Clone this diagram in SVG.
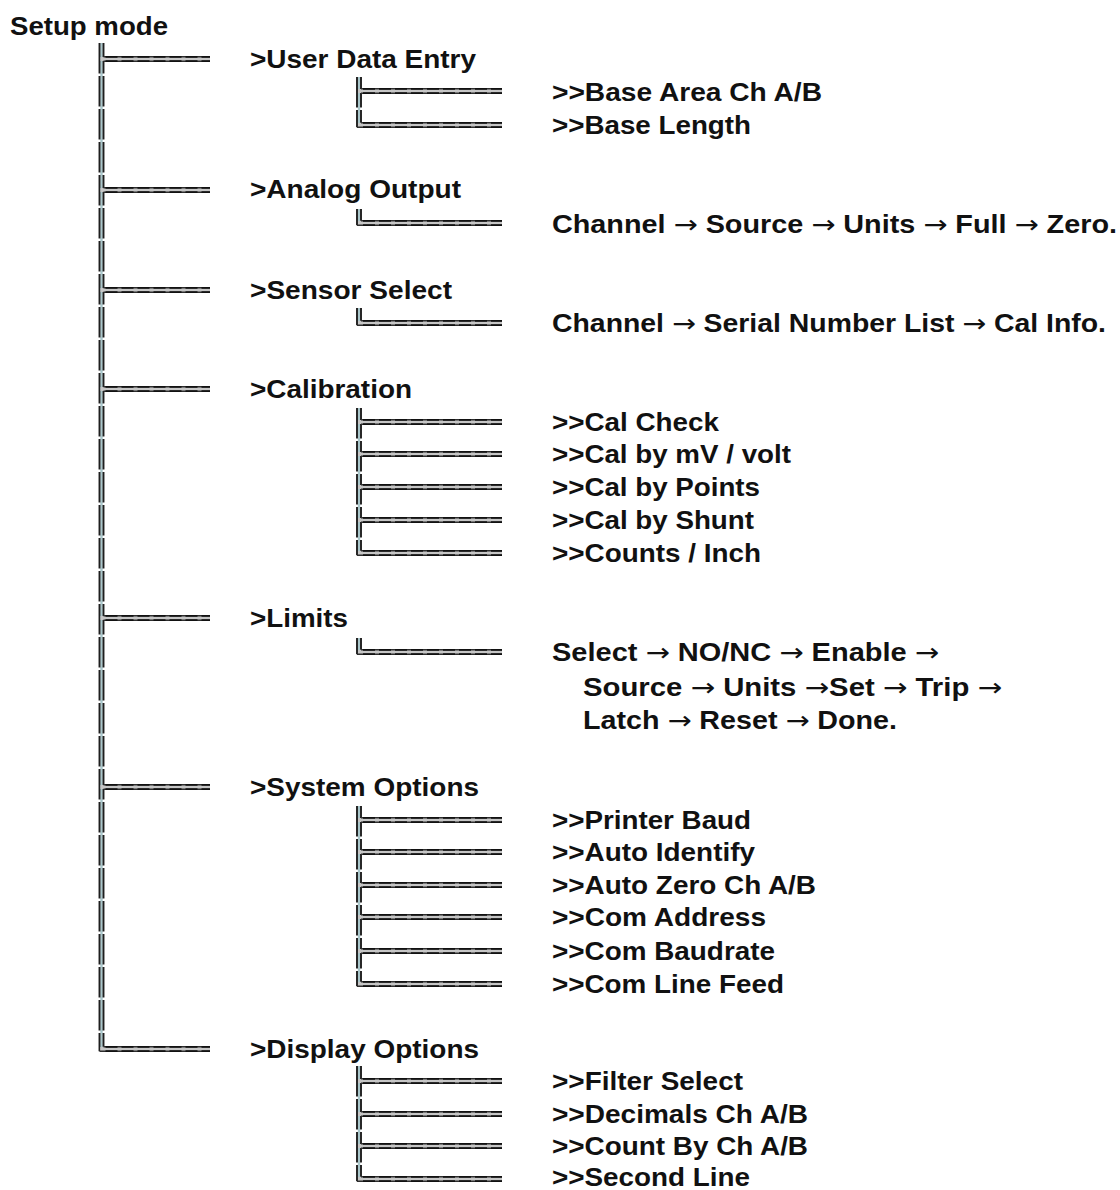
<svg xmlns="http://www.w3.org/2000/svg" width="1120" height="1190" viewBox="0 0 1120 1190">
<style>
.t{font-family:"Liberation Sans",Arial,sans-serif;font-weight:bold;font-size:25px;fill:#111}
.a{font-family:"DejaVu Sans",sans-serif;font-weight:normal}
.v{stroke:#1e1e1e;stroke-width:1.9;fill:none;stroke-dasharray:30.5 2.5}
.vb{fill:#a9c7cb}
.band{fill:#c6c6c6}
.h{stroke:#2e2e2e;stroke-width:1.4;fill:none}
.hk{stroke:#111;stroke-width:1.7;fill:none;stroke-dasharray:12 4}
</style>
<defs>
<g id="mTee">
<rect class="band" x="-3" y="-2" width="109.5" height="4"/>
<path class="h" d="M0,-2.2H106.5M0,2.2H106.5"/>
<path class="hk" d="M2,-2.2H106.5M2,2.2H106.5"/>
</g>
<g id="mCorner">
<rect class="band" x="-3" y="-2" width="109.5" height="4"/>
<path class="h" d="M0,-2.2H106.5M-4,2.2H106.5"/>
<path class="hk" d="M2,-2.2H106.5M2,2.2H106.5"/>
</g>
<g id="sTee">
<rect class="band" x="-3" y="-2" width="144" height="4"/>
<path class="h" d="M0,-2.2H141M0,2.2H141"/>
<path class="hk" d="M2,-2.2H141M2,2.2H141"/>
</g>
<g id="sCorner">
<rect class="band" x="-3" y="-2" width="144" height="4"/>
<path class="h" d="M0,-2.2H141M-4,2.2H141"/>
<path class="hk" d="M2,-2.2H141M2,2.2H141"/>
</g>
</defs>
<rect width="1120" height="1190" fill="#ffffff"/>

<g id="connectors">
<!-- main trunk -->
<rect class="vb" x="100.3" y="43" width="2.4" height="1004"/>
<path class="v" d="M99.5,43V1051.2M103.5,43V1046.8"/>
<use href="#mTee" x="103.5" y="59"/>
<use href="#mTee" x="103.5" y="190"/>
<use href="#mTee" x="103.5" y="290"/>
<use href="#mTee" x="103.5" y="389"/>
<use href="#mTee" x="103.5" y="618"/>
<use href="#mTee" x="103.5" y="787"/>
<use href="#mCorner" x="103.5" y="1049"/>

<!-- User Data Entry -->
<rect class="vb" x="357.8" y="77" width="2.4" height="46"/>
<path class="v" d="M357,77V127.2M361,77V122.8"/>
<use href="#sTee" x="361" y="91"/>
<use href="#sCorner" x="361" y="125"/>

<!-- Analog Output -->
<rect class="vb" x="357.8" y="209" width="2.4" height="12"/>
<path class="v" d="M357,209V225.2M361,209V220.8"/>
<use href="#sCorner" x="361" y="223"/>

<!-- Sensor Select -->
<rect class="vb" x="357.8" y="308" width="2.4" height="13"/>
<path class="v" d="M357,308V325.2M361,308V320.8"/>
<use href="#sCorner" x="361" y="323"/>

<!-- Calibration -->
<rect class="vb" x="357.8" y="408" width="2.4" height="143"/>
<path class="v" d="M357,408V555.2M361,408V550.8"/>
<use href="#sTee" x="361" y="422"/>
<use href="#sTee" x="361" y="454"/>
<use href="#sTee" x="361" y="487"/>
<use href="#sTee" x="361" y="520"/>
<use href="#sCorner" x="361" y="553"/>

<!-- Limits -->
<rect class="vb" x="357.8" y="638" width="2.4" height="12"/>
<path class="v" d="M357,638V654.2M361,638V649.8"/>
<use href="#sCorner" x="361" y="652"/>

<!-- System Options -->
<rect class="vb" x="357.8" y="806" width="2.4" height="176"/>
<path class="v" d="M357,806V986.2M361,806V981.8"/>
<use href="#sTee" x="361" y="820"/>
<use href="#sTee" x="361" y="852"/>
<use href="#sTee" x="361" y="885"/>
<use href="#sTee" x="361" y="917"/>
<use href="#sTee" x="361" y="951"/>
<use href="#sCorner" x="361" y="984"/>

<!-- Display Options -->
<rect class="vb" x="357.8" y="1066" width="2.4" height="111"/>
<path class="v" d="M357,1066V1181.2M361,1066V1176.8"/>
<use href="#sTee" x="361" y="1081"/>
<use href="#sTee" x="361" y="1114"/>
<use href="#sTee" x="361" y="1146"/>
<use href="#sCorner" x="361" y="1179"/>
</g>

<g id="root"><text class="t" x="10" y="35" textLength="158" lengthAdjust="spacingAndGlyphs">Setup mode</text></g>

<g id="user-data-entry"><text class="t" x="250" y="68" textLength="226" lengthAdjust="spacingAndGlyphs">&gt;User Data Entry</text></g>
<g id="base-area"><text class="t" x="552" y="101" textLength="270" lengthAdjust="spacingAndGlyphs">&gt;&gt;Base Area Ch A/B</text></g>
<g id="base-length"><text class="t" x="552" y="134" textLength="199" lengthAdjust="spacingAndGlyphs">&gt;&gt;Base Length</text></g>

<g id="analog-output"><text class="t" x="250" y="198" textLength="211" lengthAdjust="spacingAndGlyphs">&gt;Analog Output</text></g>
<g id="analog-seq"><text class="t" x="552" y="233" textLength="565" lengthAdjust="spacingAndGlyphs">Channel <tspan class="a">→</tspan> Source <tspan class="a">→</tspan> Units <tspan class="a">→</tspan> Full <tspan class="a">→</tspan> Zero.</text></g>

<g id="sensor-select"><text class="t" x="250" y="299" textLength="202" lengthAdjust="spacingAndGlyphs">&gt;Sensor Select</text></g>
<g id="sensor-seq"><text class="t" x="552" y="332" textLength="554" lengthAdjust="spacingAndGlyphs">Channel <tspan class="a">→</tspan> Serial Number List <tspan class="a">→</tspan> Cal Info.</text></g>

<g id="calibration"><text class="t" x="250" y="398" textLength="162" lengthAdjust="spacingAndGlyphs">&gt;Calibration</text></g>
<g id="cal-check"><text class="t" x="552" y="431" textLength="167" lengthAdjust="spacingAndGlyphs">&gt;&gt;Cal Check</text></g>
<g id="cal-mv"><text class="t" x="552" y="463" textLength="239" lengthAdjust="spacingAndGlyphs">&gt;&gt;Cal by mV / volt</text></g>
<g id="cal-points"><text class="t" x="552" y="496" textLength="208" lengthAdjust="spacingAndGlyphs">&gt;&gt;Cal by Points</text></g>
<g id="cal-shunt"><text class="t" x="552" y="529" textLength="202" lengthAdjust="spacingAndGlyphs">&gt;&gt;Cal by Shunt</text></g>
<g id="counts-inch"><text class="t" x="552" y="562" textLength="209" lengthAdjust="spacingAndGlyphs">&gt;&gt;Counts / Inch</text></g>

<g id="limits"><text class="t" x="250" y="627" textLength="98" lengthAdjust="spacingAndGlyphs">&gt;Limits</text></g>
<g id="limits-seq">
<text class="t" x="552" y="661" textLength="387" lengthAdjust="spacingAndGlyphs">Select <tspan class="a">→</tspan> NO/NC <tspan class="a">→</tspan> Enable <tspan class="a">→</tspan></text>
<text class="t" x="583" y="696" textLength="419" lengthAdjust="spacingAndGlyphs">Source <tspan class="a">→</tspan> Units <tspan class="a">→</tspan>Set <tspan class="a">→</tspan> Trip <tspan class="a">→</tspan></text>
<text class="t" x="583" y="729" textLength="314" lengthAdjust="spacingAndGlyphs">Latch <tspan class="a">→</tspan> Reset <tspan class="a">→</tspan> Done.</text>
</g>

<g id="system-options"><text class="t" x="250" y="796" textLength="229" lengthAdjust="spacingAndGlyphs">&gt;System Options</text></g>
<g id="printer-baud"><text class="t" x="552" y="829" textLength="199" lengthAdjust="spacingAndGlyphs">&gt;&gt;Printer Baud</text></g>
<g id="auto-identify"><text class="t" x="552" y="861" textLength="203" lengthAdjust="spacingAndGlyphs">&gt;&gt;Auto Identify</text></g>
<g id="auto-zero"><text class="t" x="552" y="894" textLength="264" lengthAdjust="spacingAndGlyphs">&gt;&gt;Auto Zero Ch A/B</text></g>
<g id="com-address"><text class="t" x="552" y="926" textLength="214" lengthAdjust="spacingAndGlyphs">&gt;&gt;Com Address</text></g>
<g id="com-baudrate"><text class="t" x="552" y="960" textLength="223" lengthAdjust="spacingAndGlyphs">&gt;&gt;Com Baudrate</text></g>
<g id="com-line-feed"><text class="t" x="552" y="993" textLength="232" lengthAdjust="spacingAndGlyphs">&gt;&gt;Com Line Feed</text></g>

<g id="display-options"><text class="t" x="250" y="1058" textLength="229" lengthAdjust="spacingAndGlyphs">&gt;Display Options</text></g>
<g id="filter-select"><text class="t" x="552" y="1090" textLength="191" lengthAdjust="spacingAndGlyphs">&gt;&gt;Filter Select</text></g>
<g id="decimals"><text class="t" x="552" y="1123" textLength="256" lengthAdjust="spacingAndGlyphs">&gt;&gt;Decimals Ch A/B</text></g>
<g id="count-by"><text class="t" x="552" y="1155" textLength="256" lengthAdjust="spacingAndGlyphs">&gt;&gt;Count By Ch A/B</text></g>
<g id="second-line"><text class="t" x="552" y="1186" textLength="198" lengthAdjust="spacingAndGlyphs">&gt;&gt;Second Line</text></g>
</svg>
